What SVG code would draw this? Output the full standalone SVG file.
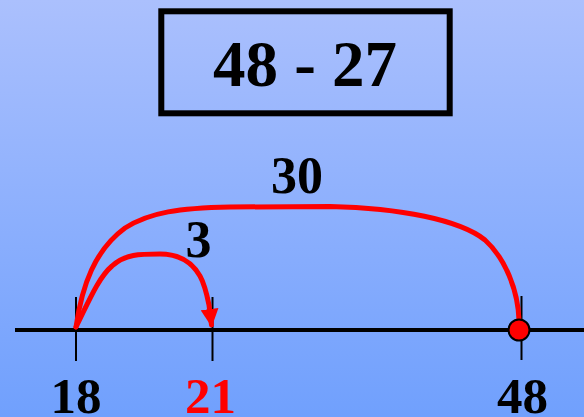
<svg xmlns="http://www.w3.org/2000/svg" width="584" height="417" viewBox="0 0 584 417">
  <defs>
    <linearGradient id="bg" x1="0" y1="0" x2="0" y2="1">
      <stop offset="0" stop-color="#abc0fd"/>
      <stop offset="1" stop-color="#70a0fd"/>
    </linearGradient>
    <marker id="arrow" viewBox="0 0 18 18" refX="16" refY="9" markerWidth="18" markerHeight="18" orient="auto" markerUnits="userSpaceOnUse">
      <path d="M0,0 L18,9 L0,18 z" fill="#ff0000"/>
    </marker>
  </defs>
  <style>
    .lbl { font-family: "Liberation Serif", "Times New Roman", serif; font-weight: bold; text-anchor: middle; }
    .tick { stroke: #000; stroke-width: 2; }
    .jump { fill: none; stroke: #ff0000; stroke-width: 5; stroke-linecap: round; stroke-linejoin: round; }
  </style>
  <rect x="0" y="0" width="584" height="417" fill="url(#bg)"/>

  <g id="title">
    <rect x="161.3" y="11.3" width="288.4" height="102" fill="none" stroke="#000" stroke-width="6"/>
    <text class="lbl" x="305" y="86" font-size="65">48 - 27</text>
  </g>

  <g id="numberline">
    <line x1="15" y1="330" x2="584" y2="330" stroke="#000" stroke-width="4"/>
    <line class="tick" x1="76" y1="297" x2="76" y2="361"/>
    <line class="tick" x1="212.5" y1="297" x2="212.5" y2="361"/>
    <line class="tick" x1="521.5" y1="296" x2="521.5" y2="360"/>
  </g>

  <g id="connectors">
    <path id="jump30" class="jump" d="M76,327 C 82,285 95,250 125,228 C 150,212 180,208 230,207 L 330,206.5 C 400,208 460,220 485,240 C 505,258 518,290 519,320"/>
    <path id="jump3" class="jump" d="M76,327 C 88,303 98,278 112,266 C 125,254 140,254 160,254 C 180,254 192,262 200,276 C 205,285 207,295 209,305 L 211.5,325" marker-end="url(#arrow)"/>
  </g>

  <g id="point48">
    <circle cx="519" cy="330" r="10.5" fill="#ff0000" stroke="#000" stroke-width="2"/>
  </g>

  <g id="label30"><text class="lbl" x="297" y="193" font-size="52">30</text></g>
  <g id="label3"><text class="lbl" x="198.5" y="256.5" font-size="52">3</text></g>
  <g id="label18"><text class="lbl" x="76" y="413" font-size="51">18</text></g>
  <g id="label21"><text class="lbl" x="210.5" y="413" font-size="51" fill="#ff0000">21</text></g>
  <g id="label48"><text class="lbl" x="522.5" y="413" font-size="51">48</text></g>
</svg>
